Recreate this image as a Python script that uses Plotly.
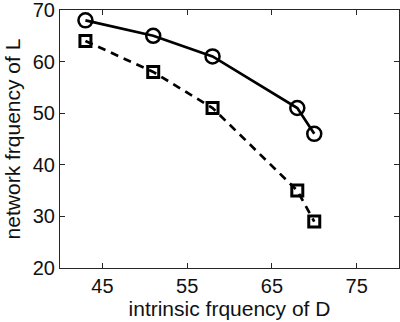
import plotly.graph_objects as go

x_vals = [43, 51, 58, 68, 70]
circle_vals = [68, 65, 61, 51, 46]
square_vals = [64, 58, 51, 35, 29]
x_ticks = [45, 55, 65, 75]
y_ticks = [20, 30, 40, 50, 60, 70]

FONT = "Liberation Sans, Arial"

fig = go.Figure()
fig.add_trace(go.Scatter(
    x=x_vals, y=circle_vals, mode="lines+markers",
    line=dict(color="black", width=2.7),
    marker=dict(symbol="circle-open", size=14, color="black", line=dict(width=2.5)),
))
fig.add_trace(go.Scatter(
    x=x_vals, y=square_vals, mode="lines+markers",
    line=dict(color="black", width=2.7, dash="8px,6px"),
    marker=dict(symbol="square-open", size=11, color="black", line=dict(width=3)),
))

axis_common = dict(
    showline=True, linecolor="#262626", linewidth=1, mirror="ticks",
    ticks="inside", ticklen=5, tickcolor="#262626", showgrid=False, zeroline=False,
    automargin=False, ticklabeloverflow="allow",
    tickfont=dict(family=FONT, size=20, color="#111"),
)
fig.update_xaxes(range=[40, 80], tickvals=x_ticks, **axis_common,
                 title=dict(text="intrinsic frquency of D", standoff=4,
                            font=dict(family=FONT, size=21, color="#111")))
fig.update_yaxes(range=[20, 70], tickvals=y_ticks, **axis_common,
                 title=dict(text="network frquency of L", standoff=6,
                            font=dict(family=FONT, size=21, color="#111")))
fig.update_layout(
    width=400, height=322, showlegend=False,
    margin=dict(l=60, r=1, t=10, b=54),
    plot_bgcolor="white", paper_bgcolor="white",
)
fig.write_html("out.html", config={"displayModeBar": False},
               post_script="document.body.style.margin='0';document.body.style.overflow='hidden';")
